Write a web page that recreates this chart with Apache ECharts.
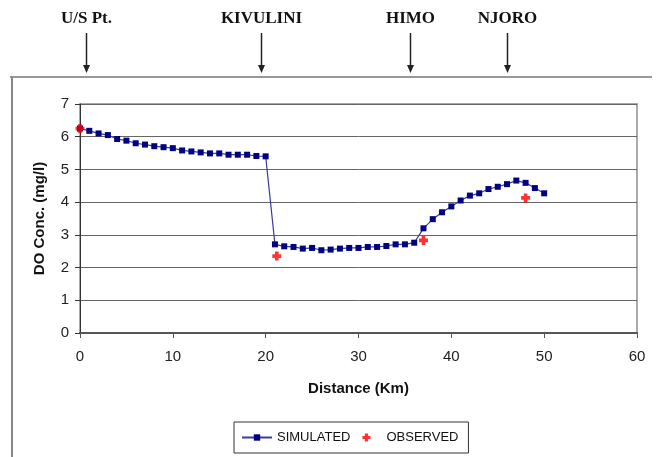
<!DOCTYPE html>
<html>
<head>
<meta charset="utf-8">
<script src="https://cdn.jsdelivr.net/npm/echarts@6/dist/echarts.min.js"></script>
<style>
html,body{margin:0;padding:0;background:#fff;}
#c{width:656px;height:457px;}
</style>
</head>
<body>
<div id="c"></div>
<script>
// ---- data ----
var simDistance = [0,1,2,3,4,5,6,7,8,9,10,11,12,13,14,15,16,17,18,19,20,21,22,23,24,25,26,27,28,29,30,31,32,33,34,35,36,37,38,39,40,41,42,43,44,45,46,47,48,49,50];
var simDO = [6.25,6.18,6.10,6.05,5.93,5.88,5.80,5.76,5.71,5.68,5.65,5.58,5.55,5.52,5.49,5.49,5.45,5.45,5.45,5.41,5.40,
             2.71,2.65,2.63,2.58,2.60,2.53,2.55,2.58,2.60,2.60,2.63,2.63,2.66,2.71,2.71,2.76,
             3.20,3.48,3.69,3.87,4.05,4.20,4.27,4.40,4.47,4.55,4.66,4.59,4.43,4.27];
var obsDistance = [0, 21.2, 37, 48];
var obsDO = [6.25, 2.35, 2.83, 4.13];
var stationNames = ['U/S Pt.', 'KIVULINI', 'HIMO', 'NJORO'];
var stationKm = [0.6, 19.5, 35.6, 46.0];
var xTicks = [0,10,20,30,40,50,60];
var yTicks = [0,1,2,3,4,5,6,7];

var simData = simDistance.map(function(d,i){return [d, simDO[i]];});
var obsData = obsDistance.map(function(d,i){return [d, obsDO[i]];});

var chart = echarts.init(document.getElementById('c'), null, {renderer:'canvas'});
var font = '"Liberation Sans", Arial, sans-serif';
var option = {
  backgroundColor: '#fff',
  animation: false,
  grid: {left: 80, right: 19, top: 104, bottom: 124, show: true, borderColor: '#aaa', borderWidth: 2, backgroundColor: 'transparent'},
  xAxis: {
    type: 'value', min: xTicks[0], max: xTicks[xTicks.length-1], interval: 10,
    name: 'Distance (Km)', nameLocation: 'middle', nameGap: 48,
    nameTextStyle: {fontFamily: font, fontSize: 15, fontWeight: 'bold', color: '#111'},
    axisLine: {lineStyle: {color: '#555', width: 2}},
    axisTick: {show: true, length: 5, lineStyle: {color: '#555', width: 1}},
    axisLabel: {fontFamily: font, fontSize: 15, color: '#222', margin: 16},
    splitLine: {show: false}
  },
  yAxis: {
    type: 'value', min: yTicks[0], max: yTicks[yTicks.length-1], interval: 1,
    name: 'DO Conc. (mg/l)', nameLocation: 'middle', nameGap: 33,
    nameTextStyle: {fontFamily: font, fontSize: 15, fontWeight: 'bold', color: '#111'},
    axisLine: {show: true, lineStyle: {color: '#333', width: 1}},
    axisTick: {show: true, length: 5, lineStyle: {color: '#333'}},
    axisLabel: {fontFamily: font, fontSize: 15, color: '#222', margin: 11},
    splitLine: {show: true, lineStyle: {color: '#666', width: 1}}
  },
  legend: {
    left: 234, top: 422, orient: 'horizontal',
    padding: [9, 10, 9, 7], itemGap: 12, itemWidth: 30, itemHeight: 8,
    borderColor: '#333', borderWidth: 1,
    textStyle: {fontFamily: font, fontSize: 13, color: '#111'},
    data: ['SIMULATED', 'OBSERVED']
  },
  series: [
    {
      name: 'SIMULATED', type: 'line', data: simData,
      symbol: 'rect', symbolSize: 6, showSymbol: true,
      lineStyle: {color: '#3a3aa0', width: 1.2},
      itemStyle: {color: '#000080'}, z: 3
    },
    {
      name: 'OBSERVED', type: 'scatter', data: obsData,
      symbol: 'path://M3,0h4v3h3v4h-3v3h-4v-3h-3v-4h3z', symbolSize: 9,
      itemStyle: {color: '#ff0000'}, z: 10, zlevel: 1
    }
  ]
};
chart.setOption(option);

// station arrows & frame
var g = [];
g.push({type:'line', shape:{x1:10,y1:77,x2:652,y2:77}, style:{stroke:'#333', lineWidth:1}, silent:true});
g.push({type:'line', shape:{x1:12,y1:77,x2:12,y2:457}, style:{stroke:'#888', lineWidth:2}, silent:true});
stationNames.forEach(function(n, i){
  var px = Math.round(chart.convertToPixel({xAxisIndex:0}, stationKm[i])) + 0.5;
  g.push({type:'text', x: px, y: 19, style:{text:n, fill:'#111', font:'bold 17px "Liberation Serif", "Times New Roman", serif', textAlign:'center', textVerticalAlign:'middle'}, silent:true});
  g.push({type:'line', shape:{x1:px,y1:33,x2:px,y2:67}, style:{stroke:'#222', lineWidth:1.5}, silent:true});
  g.push({type:'polygon', shape:{points:[[px-3.5,65],[px+3.5,65],[px,73]]}, style:{fill:'#222'}, silent:true});
});
chart.setOption({graphic: g});
</script>
</body>
</html>
